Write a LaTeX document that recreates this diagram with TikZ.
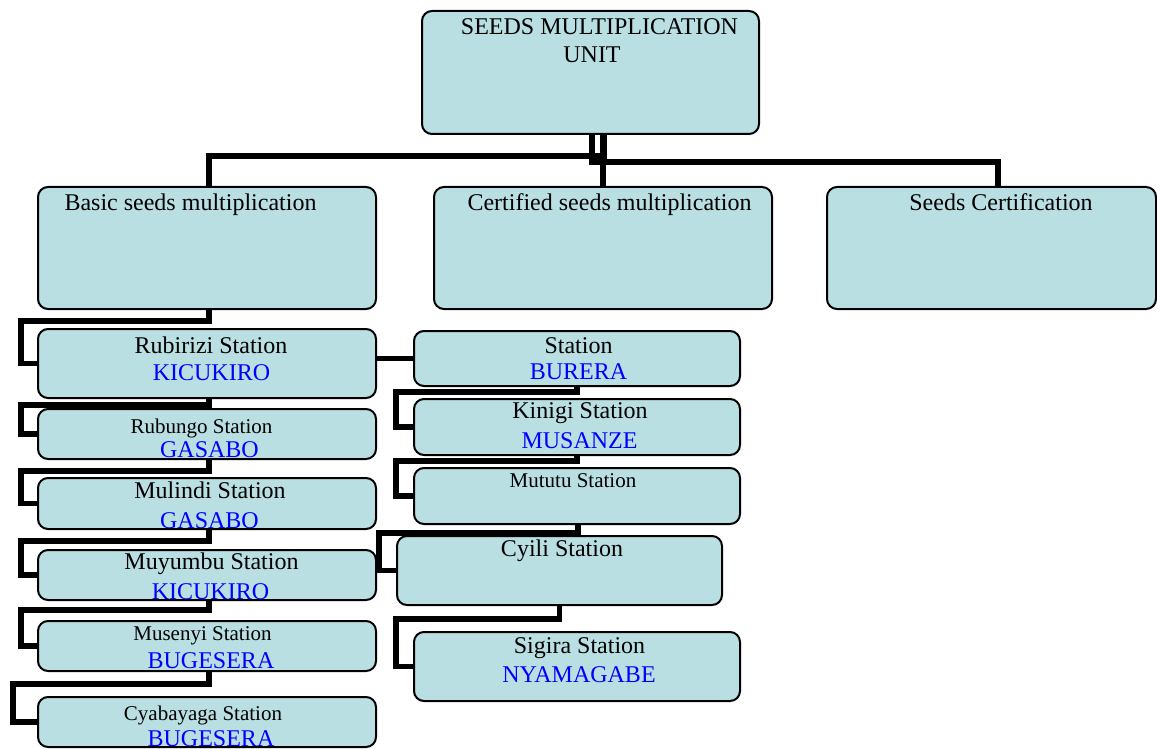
\documentclass[tikz,border=0pt]{standalone}
\usepackage{fontspec}
\setmainfont{Liberation Serif}
\definecolor{boxfill}{HTML}{B9DFE3}
\definecolor{distblue}{HTML}{0000FF}
\begin{document}
\begin{tikzpicture}[x=1pt,y=-1pt,
  box/.style={draw=black, line width=2pt, fill=boxfill, rounded corners=10pt, inner sep=0pt},
  conn/.style={draw=black, line width=5.5pt},
  big/.style={font=\fontsize{24}{28}\selectfont, inner sep=0pt, anchor=base},
  small/.style={font=\fontsize{21}{25}\selectfont, inner sep=0pt, anchor=base},
  district/.style={big, text=distblue}]
\useasboundingbox (0,0) rectangle (1157,749);

% boxes
\node[box, minimum width=337pt, minimum height=123pt] (seeds) at (590.5,72.5) {};
\node[box, minimum width=338pt, minimum height=122pt] (basic) at (207,248) {};
\node[box, minimum width=338pt, minimum height=122pt] (certified) at (603,248) {};
\node[box, minimum width=329pt, minimum height=122pt] (seedcert) at (991.5,248) {};
\node[box, minimum width=338pt, minimum height=69pt] (rubirizi) at (207,363.5) {};
\node[box, minimum width=338pt, minimum height=50pt] (rubungo) at (207,434) {};
\node[box, minimum width=338pt, minimum height=51pt] (mulindi) at (207,503.5) {};
\node[box, minimum width=338pt, minimum height=50pt] (muyumbu) at (207,575) {};
\node[box, minimum width=338pt, minimum height=50pt] (musenyi) at (207,646) {};
\node[box, minimum width=338pt, minimum height=50pt] (cyabayaga) at (207,722) {};
\node[box, minimum width=326pt, minimum height=55pt] (burera) at (577,358.5) {};
\node[box, minimum width=326pt, minimum height=56pt] (kinigi) at (577,427) {};
\node[box, minimum width=326pt, minimum height=56pt] (mututu) at (577,496) {};
\node[box, minimum width=325pt, minimum height=69pt] (cyili) at (559.5,570.5) {};
\node[box, minimum width=326pt, minimum height=69pt] (sigira) at (577,666.5) {};

% connectors
\draw[conn] ([xshift=13.5pt]seeds.south) -- ++(0,21) -| ([xshift=2pt]basic.north);
\draw[conn] ([xshift=1.5pt]seeds.south) -- ++(0,27) -| ([xshift=6.5pt]seedcert.north);
\draw[conn] (certified.north) -- (certified.north |- seeds.south);
\draw[conn] ([xshift=2pt]basic.south) -- ++(0,11) -| ([xshift=-16pt]rubirizi.west) -- (rubirizi.west);
\draw[conn] ([xshift=2pt]rubirizi.south) -- ++(0,6) -| ([xshift=-16pt]rubungo.west) -- (rubungo.west);
\draw[conn] ([xshift=2pt]rubungo.south) -- ++(0,11) -| ([xshift=-16pt]mulindi.west) -- (mulindi.west);
\draw[conn] ([xshift=2pt]mulindi.south) -- ++(0,11) -| ([xshift=-16pt]muyumbu.west) -- (muyumbu.west);
\draw[conn] ([xshift=2pt]muyumbu.south) -- ++(0,9) -| ([xshift=-16pt]musenyi.west) -- (musenyi.west);
\draw[conn] ([xshift=2pt]musenyi.south) -- ++(0,12) -| ([xshift=-24pt]cyabayaga.west) -- (cyabayaga.west);
\draw[conn] (burera.west) -- (burera.west -| rubirizi.east);
\draw[conn] (burera.south) -- ++(0,5) -| ([xshift=-17pt]kinigi.west) -- (kinigi.west);
\draw[conn] (kinigi.south) -- ++(0,5) -| ([xshift=-17pt]mututu.west) -- (mututu.west);
\draw[conn] ([xshift=1pt]mututu.south) -- ++(0,8) -| ([xshift=-17pt]cyili.west) -- (cyili.west);
\draw[conn] (cyili.south) -- ++(0,13) -| ([xshift=-17pt]sigira.west) -- (sigira.west);

% labels
\node[big] (t1) at (599.5,35) {SEEDS MULTIPLICATION};
\node[big] (t2) at (592,63) {UNIT};
\node[big] (t3) at (190.5,211) {Basic seeds multiplication};
\node[big] (t4) at (609.5,211) {Certified seeds multiplication};
\node[big] (t5) at (1001,211) {Seeds Certification};
\node[big] (l1) at (211,353) {Rubirizi Station};
\node[district] (d1) at (211.5,380) {KICUKIRO};
\node[small] (l2) at (201.5,433) {Rubungo Station};
\node[district] (d2) at (209.5,457) {GASABO};
\node[big] (l3) at (210,498) {Mulindi Station};
\node[district] (d3) at (209.5,528) {GASABO};
\node[big] (l4) at (211.5,569) {Muyumbu Station};
\node[district] (d4) at (210.5,599) {KICUKIRO};
\node[small] (l5) at (202.5,640) {Musenyi Station};
\node[district] (d5) at (211,668) {BUGESERA};
\node[small] (l6) at (203,720) {Cyabayaga Station};
\node[district] (d6) at (211,746) {BUGESERA};
\node[big] (r1) at (578.5,353) {Station};
\node[district] (e1) at (578.5,379) {BURERA};
\node[big] (r2) at (580,418) {Kinigi Station};
\node[district] (e2) at (579.5,448) {MUSANZE};
\node[small] (r3) at (573,487) {Mututu Station};
\node[big] (r4) at (562,556) {Cyili Station};
\node[big] (r5) at (579.5,653) {Sigira Station};
\node[district] (e5) at (579,682) {NYAMAGABE};
\end{tikzpicture}
\end{document}
